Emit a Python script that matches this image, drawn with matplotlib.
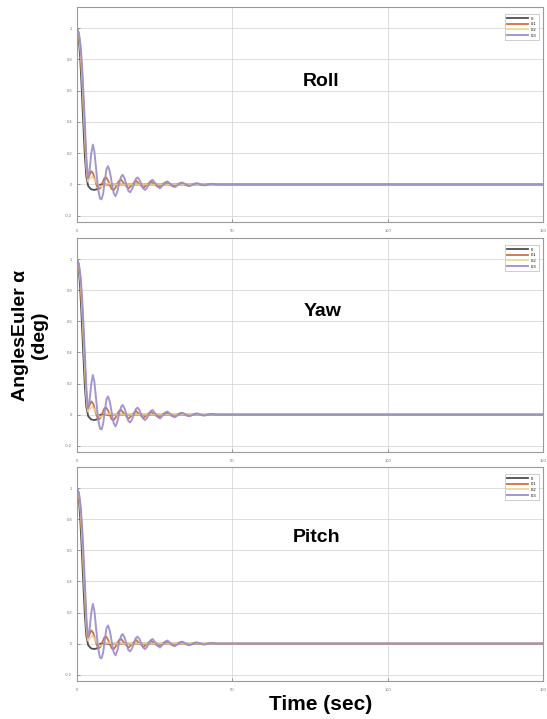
import matplotlib
matplotlib.use("Agg")
import matplotlib.pyplot as plt

# ---- data ----
panel_titles = ["Roll", "Yaw", "Pitch"]
series_labels = ["0", "0.1", "0.2", "0.3"]
x_ticks = [0, 50, 100, 150]
y_ticks = [-0.2, 0, 0.2, 0.4, 0.6, 0.8, 1]

t_black = [0, 0.5, 1.0, 1.5, 2.0, 2.5, 3.0, 3.6, 4.5, 5.5, 6.5, 7.0, 7.5, 150]
v_black = [1, 0.95, 0.82, 0.62, 0.40, 0.19, 0.05, -0.01, -0.03, -0.035, -0.03, -0.01, 0, 0]

t_orange = [0, 0.6, 1.2, 1.8, 2.4, 3.0, 3.4, 4.0, 4.6, 5.2, 5.8, 6.4, 7.0, 7.6,
            8.2, 8.8, 9.4, 10.0, 10.6, 11.2, 11.8, 12.4, 13.0, 13.6, 14.2, 15.4,
            16.6, 17.8, 19.0, 20.2, 21.4, 22.6, 23.8, 25.0, 26.2, 27.4, 28.6,
            29.8, 31.0, 32.2, 33.4, 34.6, 35.8, 37.0, 38.2, 39.4, 40.6, 41.8,
            43.0, 45.0, 150]
v_orange = [1, 0.96, 0.85, 0.64, 0.38, 0.12, 0.03, 0.06, 0.085, 0.07, 0.03, -0.01,
            -0.03, -0.02, 0.01, 0.04, 0.045, 0.025, -0.005, -0.03, -0.035, -0.02,
            0.005, 0.025, 0.03, 0.0, -0.025, 0.0, 0.024, 0.0, -0.021, 0.0, 0.019,
            0.0, -0.017, 0.0, 0.015, 0.0, -0.013, 0.0, 0.011, 0.0, -0.009, 0.0,
            0.007, 0.0, -0.005, 0.0, 0.003, 0, 0]

t_yellow = [0, 0.6, 1.2, 1.8, 2.4, 3.0, 3.5, 4.2, 5.0, 5.8, 6.6, 7.4, 8.2, 9.0, 10.0, 12.0, 150]
v_yellow = [1, 0.96, 0.84, 0.62, 0.36, 0.12, 0.02, 0.04, 0.05, 0.03, 0.0, -0.015,
            -0.01, 0.0, 0.005, 0, 0]

t_purple = [0, 0.6, 1.2, 1.8, 2.4, 3.0, 3.5, 4.0, 4.6, 5.1, 5.6, 6.2, 6.8, 7.4,
            7.9, 8.4, 9.0, 9.5, 10.0, 10.6, 11.2, 11.8, 12.4, 13.0, 13.6, 14.2,
            14.7, 15.3, 15.9, 16.5, 17.1, 17.7, 18.3, 18.9, 19.5, 20.1, 20.7,
            21.3, 21.9, 22.5, 23.1, 23.7, 24.3, 25.5, 26.7, 27.9, 29.1, 30.3,
            31.5, 32.7, 33.9, 35.1, 36.3, 37.5, 38.7, 39.9, 41.1, 42.3, 43.5, 45.0, 150]
v_purple = [1.0, 0.97, 0.88, 0.70, 0.45, 0.18, 0.04, 0.08, 0.20, 0.255, 0.21, 0.09,
            -0.03, -0.09, -0.095, -0.06, 0.03, 0.10, 0.117, 0.08, 0.01, -0.055,
            -0.075, -0.045, 0.01, 0.05, 0.062, 0.04, 0.0, -0.04, -0.05, -0.03, 0.0,
            0.035, 0.045, 0.03, 0.0, -0.025, -0.035, -0.022, 0.0, 0.022, 0.03, 0.0,
            -0.025, 0.0, 0.02, 0.0, -0.017, 0.0, 0.013, 0.0, -0.01, 0.0, 0.008, 0.0,
            -0.006, 0.0, 0.004, 0, 0]

series = [
    (t_black, v_black, "#3b3b3b", 1.3),
    (t_orange, v_orange, "#c8622e", 1.3),
    (t_yellow, v_yellow, "#efd48a", 1.3),
    (t_purple, v_purple, "#9a8ccc", 1.4),
]

# ---- figure ----
W, H = 547, 719
fig = plt.figure(figsize=(W / 100, H / 100), dpi=100)
plt.rcParams['font.family'] = ['Liberation Sans', 'DejaVu Sans']

panel_px = [(7, 222), (238, 452), (467, 681)]
left_px, right_px = 77, 543
title_pos = [(78.5, 0.66), (79, 0.66), (77, 0.68)]

for i, (top, bot) in enumerate(panel_px):
    ax = fig.add_axes([left_px / W, 1 - bot / H, (right_px - left_px) / W, (bot - top) / H])
    for (tx, vy, col, lw), lab in zip(series, series_labels):
        ax.plot(tx, vy, color=col, lw=lw, label=lab, alpha=0.9)
    ax.set_xlim(0, 150)
    ax.set_ylim(-0.24, 1.135)
    ax.set_xticks(x_ticks)
    ax.set_yticks(y_ticks)
    ax.set_xticklabels([str(v) for v in x_ticks])
    ax.set_yticklabels([("%g" % v) for v in y_ticks])
    ax.tick_params(labelsize=3, colors="#777777", length=2, width=0.5, direction="in")
    ax.tick_params(axis="x", pad=5)
    ax.grid(True, color="#d8d8d8", lw=0.6)
    for sp in ax.spines.values():
        sp.set_color("#9a9a9a")
        sp.set_linewidth(0.8)
    ax.text(title_pos[i][0], title_pos[i][1], panel_titles[i], fontsize=14,
            fontweight="bold", ha="center", va="center")
    leg = ax.legend(loc="upper right", fontsize=3, handlelength=5, frameon=True,
                    borderpad=0.5, labelspacing=0.4, fancybox=False,
                    edgecolor="#aaaaaa", bbox_to_anchor=(0.995, 0.975))
    leg.get_frame().set_linewidth(0.5)

fig.text(30 / W, 1 - 335 / H, "AnglesEuler α\n(deg)", rotation=90, fontsize=14,
         fontweight="bold", ha="center", va="center", linespacing=1.1)
fig.text(321 / W, 1 - 705 / H, "Time (sec)", fontsize=15, fontweight="bold",
         ha="center", va="center")

fig.savefig("out.png", dpi=100)
